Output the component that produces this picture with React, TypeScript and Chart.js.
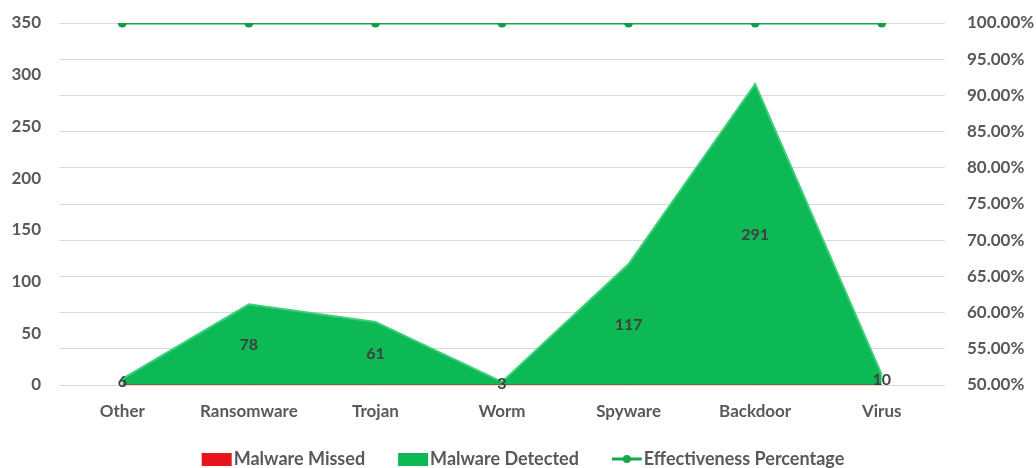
import React, { useEffect, useRef } from "react";
import { Chart, registerables } from "chart.js";

Chart.register(...registerables);

const categories = ["Other", "Ransomware", "Trojan", "Worm", "Spyware", "Backdoor", "Virus"];
const malwareMissed = [0, 0, 0, 0, 0, 0, 0];
const malwareDetected = [6, 78, 61, 3, 117, 291, 10];
const effectiveness = [1, 1, 1, 1, 1, 1, 1];
const leftTicks = { min: 0, max: 350, step: 50 };
const rightTicks = { min: 0.5, max: 1, step: 0.05 };

const FONT = "Lato, 'Liberation Sans', sans-serif";
const TICK_COLOR = "#595959";
const GREEN_FILL = "#0cb955";
const GREEN_EDGE = "#3fcf7b";
const RED_FILL = "#e8141c";
const LINE_GREEN = "#13a94c";

const legendItems = [
  { label: "Malware Missed", kind: "rect", color: RED_FILL },
  { label: "Malware Detected", kind: "rect", color: GREEN_FILL },
  { label: "Effectiveness Percentage", kind: "line", color: LINE_GREEN },
];

const dataLabelPlugin = {
  id: "dataLabels",
  afterDatasetsDraw(chart: any) {
    const ctx = chart.ctx;
    const meta = chart.getDatasetMeta(2);
    const yScale = chart.scales.y;
    ctx.save();
    ctx.font = `bold 16px ${FONT}`;
    ctx.fillStyle = "#404040";
    ctx.textAlign = "center";
    ctx.textBaseline = "middle";
    meta.data.forEach((pt: any, i: number) => {
      const v = malwareDetected[i];
      const base = malwareMissed[i];
      const y = yScale.getPixelForValue(base + v / 2);
      ctx.fillText(String(v), pt.x, y);
    });
    ctx.restore();
  },
};

const customLegendPlugin = {
  id: "customLegend",
  afterDraw(chart: any) {
    const ctx = chart.ctx;
    ctx.save();
    ctx.font = `bold 18px ${FONT}`;
    ctx.textBaseline = "middle";
    const y = 459;
    const boxW = 30;
    const gap = 2;
    const itemGap = 33;
    let total = 0;
    const widths = legendItems.map((it) => {
      const w = boxW + gap + ctx.measureText(it.label).width;
      total += w;
      return w;
    });
    total += itemGap * (legendItems.length - 1);
    let x = (chart.width - total) / 2 + 5;
    legendItems.forEach((it, i) => {
      if (it.kind === "rect") {
        ctx.fillStyle = it.color;
        ctx.fillRect(x, y - 6, boxW, 13);
      } else {
        ctx.strokeStyle = it.color;
        ctx.lineWidth = 3;
        ctx.beginPath();
        ctx.moveTo(x, y);
        ctx.lineTo(x + boxW, y);
        ctx.stroke();
        ctx.fillStyle = it.color;
        ctx.beginPath();
        ctx.arc(x + boxW / 2, y, 4, 0, Math.PI * 2);
        ctx.fill();
      }
      ctx.fillStyle = TICK_COLOR;
      ctx.textAlign = "left";
      ctx.fillText(it.label, x + boxW + gap, y);
      x += widths[i] + itemGap;
    });
    ctx.restore();
  },
};

export default function App() {
  const ref = useRef<HTMLCanvasElement | null>(null);
  useEffect(() => {
    document.body.style.margin = "0";
    const canvas = ref.current;
    if (!canvas) return;
    const tickFont = { family: FONT, size: 17, weight: "bold" };
    const chart = new Chart(canvas, {
      type: "line",
      data: {
        labels: categories,
        datasets: [
          {
            label: "Effectiveness Percentage",
            data: effectiveness,
            yAxisID: "y1",
            borderColor: LINE_GREEN,
            backgroundColor: LINE_GREEN,
            borderWidth: 3,
            pointRadius: 4.5,
            pointBackgroundColor: "#0e9e45",
            pointBorderWidth: 0,
            fill: false,
            stack: "line",
          } as any,
          {
            label: "Malware Missed",
            data: malwareMissed,
            yAxisID: "y",
            borderColor: RED_FILL,
            backgroundColor: RED_FILL,
            borderWidth: 1,
            pointRadius: 0,
            fill: "origin",
            stack: "area",
          } as any,
          {
            label: "Malware Detected",
            data: malwareDetected,
            yAxisID: "y",
            borderColor: GREEN_EDGE,
            backgroundColor: GREEN_FILL,
            borderWidth: 2,
            pointRadius: 0,
            fill: "-1",
            stack: "area",
          } as any,
        ],
      },
      options: {
        responsive: false,
        animation: false,
        layout: { autoPadding: false, padding: { top: 23, left: 0, right: 0, bottom: 0 } },
        plugins: {
          legend: { display: false },
          tooltip: { enabled: false },
        },
        scales: {
          x: {
            offset: true,
            grid: { display: false },
            border: { display: false },
            ticks: {
              color: TICK_COLOR,
              font: tickFont,
              padding: 8,
            },
            afterFit(scale: any) {
              scale.height = 83;
              scale.paddingLeft = 0;
              scale.paddingRight = 0;
            },
          },
          y: {
            position: "left",
            stacked: true,
            min: leftTicks.min,
            max: leftTicks.max,
            grid: { display: false },
            border: { display: false },
            ticks: {
              stepSize: leftTicks.step,
              color: TICK_COLOR,
              font: tickFont,
              padding: 10,
            },
            afterFit(scale: any) {
              scale.width = 59;
              scale.paddingTop = 0;
              scale.paddingBottom = 0;
            },
          },
          y1: {
            position: "right",
            min: rightTicks.min,
            max: rightTicks.max,
            grid: { color: "#d9d9d9", lineWidth: 1, drawTicks: false },
            border: { display: false },
            ticks: {
              stepSize: rightTicks.step,
              color: TICK_COLOR,
              font: tickFont,
              padding: 22,
              callback: (v: any) => `${(Number(v) * 100).toFixed(2)}%`,
            },
            afterFit(scale: any) {
              scale.width = 91;
              scale.paddingTop = 0;
              scale.paddingBottom = 0;
            },
          },
        },
      } as any,
      plugins: [dataLabelPlugin, customLegendPlugin],
    });
    return () => chart.destroy();
  }, []);
  return <canvas ref={ref} width={1036} height={468} style={{ display: "block" }} />;
}
